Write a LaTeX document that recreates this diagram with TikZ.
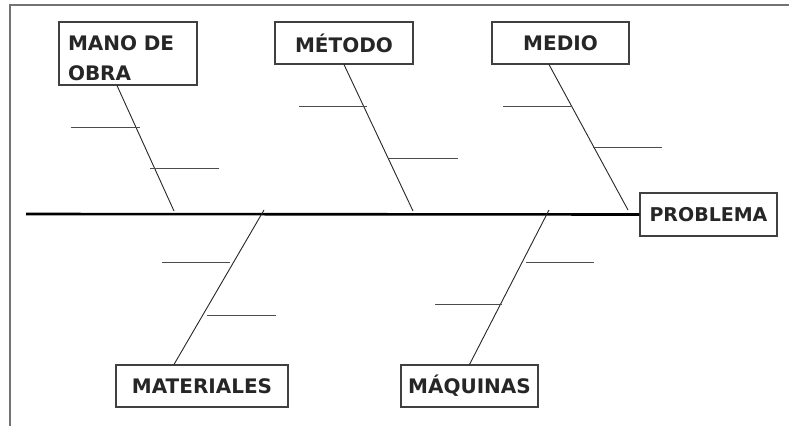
\documentclass[tikz,border=0pt]{standalone}
\usepackage{fontspec}
\setmainfont{DejaVu Sans}
\usetikzlibrary{calc}
\begin{document}
\begin{tikzpicture}[x=1pt,y=-1pt,
  catbox/.style={draw=black!75,line width=1.1pt,inner sep=0pt,font=\bfseries\fontsize{20}{30}\selectfont,text=black!85},
  bone/.style={draw=black!85,line width=0.9pt},
  rib/.style={draw=black!70,line width=0.9pt},
  spine/.style={draw=black,line width=2.6pt},
  frame/.style={draw=black!55,line width=1.2pt}]
\useasboundingbox (0,0) rectangle (789,426);
% frame
\draw[frame] (789,5) -- (10,5) -- (10,426);
% boxes
\node[catbox,minimum width=138pt,minimum height=63pt,text width=124pt,align=left] (mano) at (128,53.5) {\raisebox{-10pt}[0pt][0pt]{\parbox{124pt}{\hspace*{2pt}MANO DE\\\hspace*{2pt}OBRA}}};
\node[catbox,minimum width=138pt,minimum height=42pt] (metodo) at (344,43) {MÉTODO};
\node[catbox,minimum width=137pt,minimum height=42pt] (medio) at (560.5,43) {MEDIO};
\node[catbox,minimum width=137pt,minimum height=43pt,font=\bfseries\fontsize{19}{24}\selectfont] (problema) at (708.5,214.5) {PROBLEMA};
\node[catbox,minimum width=172pt,minimum height=42pt] (materiales) at (202,386) {MATERIALES};
\node[catbox,minimum width=137pt,minimum height=42pt] (maquinas) at (469.5,386) {MÁQUINAS};
% spine
\coordinate (tail) at (26,214);
\draw[spine] (tail) -- (problema.west);
% spine points
\coordinate (s1) at (174,211);
\coordinate (s2) at (413,211);
\coordinate (s3) at (628,210);
\coordinate (s4) at (264,210);
\coordinate (s5) at (549,210);
% bones
\draw[bone] ($(mano.south)+(-11,0)$) -- (s1);
\draw[bone] (metodo.south) -- (s2);
\draw[bone] ($(medio.south)+(-11.5,0)$) -- (s3);
\draw[bone] ($(materiales.north)+(-28,0)$) -- (s4);
\draw[bone] (maquinas.north) -- (s5);
% ribs
\draw[rib] (71,127) -- (140,127);
\draw[rib] (150,168) -- (219,168);
\draw[rib] (299,106) -- (367,106);
\draw[rib] (389,158) -- (458,158);
\draw[rib] (503,106) -- (572,106);
\draw[rib] (593,147) -- (662,147);
\draw[rib] (162,262) -- (230,262);
\draw[rib] (207,315) -- (276,315);
\draw[rib] (526,262) -- (594,262);
\draw[rib] (435,304) -- (502,304);
\end{tikzpicture}
\end{document}
